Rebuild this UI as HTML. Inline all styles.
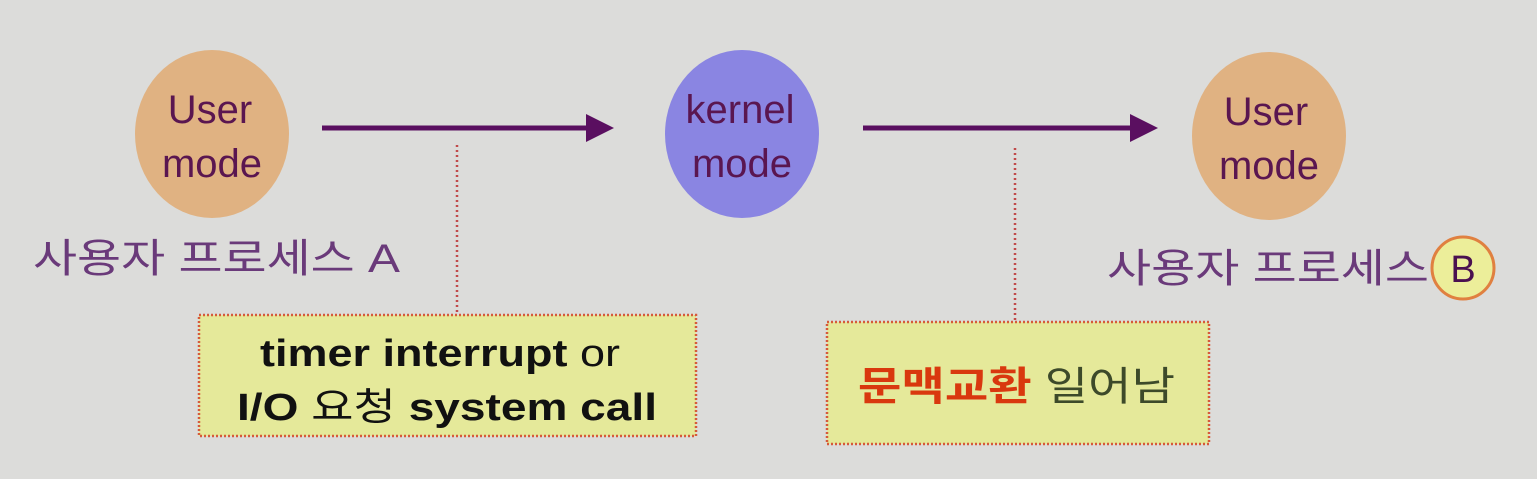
<!DOCTYPE html>
<html><head><meta charset="utf-8"><style>
body{margin:0;width:1537px;height:479px;overflow:hidden;background:#dcdcda;}
svg{display:block}
</style></head><body>
<svg width="1537" height="479" viewBox="0 0 1537 479" xmlns="http://www.w3.org/2000/svg">
<rect width="1537" height="479" fill="#dcdcda"/>
<g font-family="Liberation Sans, Noto Sans CJK KR, sans-serif">
<ellipse cx="212" cy="134" rx="77" ry="84" fill="#e0b282"/>
<ellipse cx="742" cy="134" rx="77" ry="84" fill="#8a85e2"/>
<ellipse cx="1269" cy="136" rx="77" ry="84" fill="#e0b282"/>
<g fill="#5a1650" font-size="40" text-anchor="middle">
<text x="210" y="123">User</text><text x="212" y="177">mode</text>
<text x="740" y="123">kernel</text><text x="742" y="177">mode</text>
<text x="1266" y="125">User</text><text x="1269" y="179">mode</text>
</g>
<line x1="322" y1="128" x2="590" y2="128" stroke="#5a0f60" stroke-width="5"/>
<polygon points="586,114 614,128 586,142" fill="#5a0f60"/>
<line x1="863" y1="128" x2="1134" y2="128" stroke="#5a0f60" stroke-width="5"/>
<polygon points="1130,114 1158,128 1130,142" fill="#5a0f60"/>
<line x1="457" y1="145" x2="457" y2="312" stroke="#c04a4a" stroke-width="2.5" stroke-dasharray="2,3"/>
<line x1="1015" y1="148" x2="1015" y2="320" stroke="#c04a4a" stroke-width="2.5" stroke-dasharray="2,3"/>
<rect x="199" y="315" width="497" height="121" fill="#e5e99a" stroke="#d65a3a" stroke-width="2.5" stroke-dasharray="2,2"/>
<rect x="827" y="322" width="382" height="122" fill="#e5e99a" stroke="#d65a3a" stroke-width="2.5" stroke-dasharray="2,2"/>
<g font-size="38" font-weight="bold" fill="#111">
<text x="260" y="366" textLength="360" lengthAdjust="spacingAndGlyphs">timer interrupt <tspan font-weight="normal">or</tspan></text>
<text x="237" y="420" textLength="420" lengthAdjust="spacingAndGlyphs">I/O <tspan font-weight="normal">요청</tspan> system call</text>
</g>
<text x="858" y="400" font-size="40" textLength="317" lengthAdjust="spacingAndGlyphs"><tspan fill="#d9380e" font-weight="bold">문맥교환</tspan><tspan fill="#3d4a2a"> 일어남</tspan></text>
<text x="33" y="272" font-size="40" fill="#6a3a7a" textLength="367" lengthAdjust="spacingAndGlyphs">사용자 프로세스 A</text>
<text x="1107" y="282" font-size="40" fill="#6a3a7a" textLength="322" lengthAdjust="spacingAndGlyphs">사용자 프로세스</text>
<circle cx="1463" cy="268" r="31" fill="#ecee9a" stroke="#e08040" stroke-width="3"/>
<text x="1463" y="282" font-size="38" fill="#4a1050" text-anchor="middle">B</text>
</g>
</svg>
</body></html>
